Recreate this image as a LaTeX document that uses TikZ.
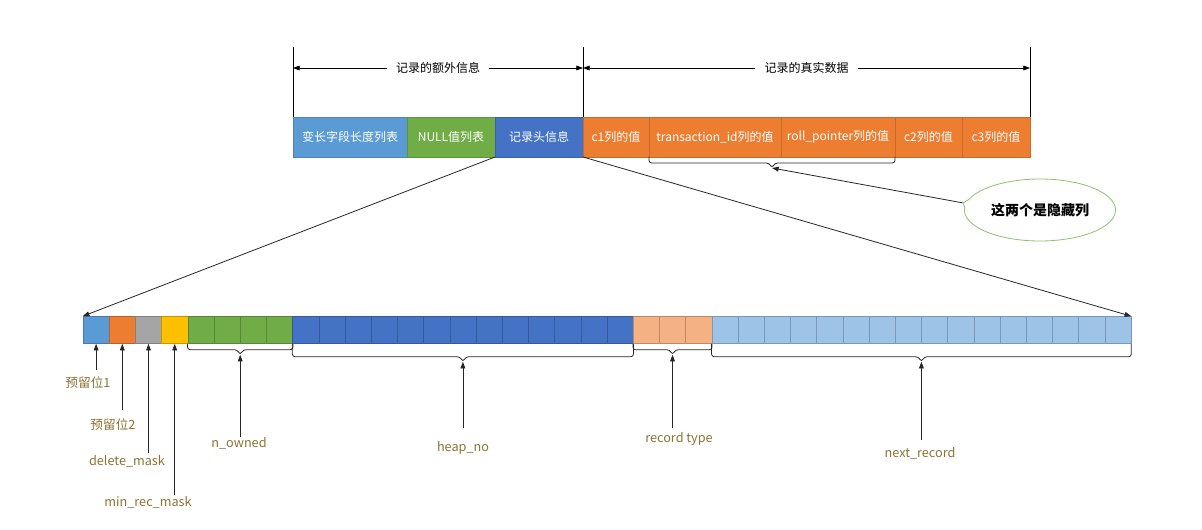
\documentclass[tikz,border=0pt]{standalone}
\usepackage{fontspec}
\setmainfont{Noto Sans CJK SC}
\usetikzlibrary{arrows.meta,positioning,calc,shapes.callouts}
\definecolor{fldblue}{HTML}{5B9BD5}
\definecolor{fldorange}{HTML}{ED7D31}
\definecolor{fldgray}{HTML}{A5A5A5}
\definecolor{fldyellow}{HTML}{FFC000}
\definecolor{fldgreen}{HTML}{70AD47}
\definecolor{flddark}{HTML}{4472C4}
\definecolor{fldsalmon}{HTML}{F4B183}
\definecolor{fldlight}{HTML}{9DC3E6}
\definecolor{lblgold}{HTML}{8C7334}
\definecolor{callgreen}{HTML}{8DC26F}

% brace under a run of cells: first, last, depth, name of tip
\newcommand{\fieldbrace}[4]{%
  \path (#1.south west) -- (#2.south east) coordinate[midway] (#4m);
  \path (#4m) ++(0,#3+5) coordinate (#4);
  \draw[brk] (#1.south west) -- ++(0,#3) -- ($(#4m)+(-3,#3)$) -- (#4)
    -- ($(#4m)+(3,#3)$) -- ($(#2.south east)+(0,#3)$) -- (#2.south east);
}

\begin{document}
\begin{tikzpicture}[x=0.75pt,y=-0.75pt,>={Triangle[length=5pt,width=3.6pt]},
   font=\fontsize{9}{11}\selectfont,
   hdr/.style={fill=#1,draw=#1!85!black,line width=0.4pt,text=white,
     minimum height=30pt,inner sep=0pt,outer sep=0pt},
   cell/.style={fill=#1,draw=#1!78!black,line width=0.4pt,
     minimum width=19.65pt,minimum height=20.25pt,inner sep=0pt},
   lbl/.style={text=lblgold,font=\fontsize{9.5}{11}\selectfont,inner sep=1.5pt},
   brk/.style={draw=black!85,line width=0.6pt,rounded corners=2pt},
   arr/.style={->,draw=black!85,line width=0.6pt},
   dim/.style={<->,line width=0.5pt},
   dimlbl/.style={fill=white,inner xsep=7pt}]
  \useasboundingbox (0,0) rectangle (1202,530);

  % record: extra info and real data
  \node[hdr=fldblue,minimum width=85.5pt] (varlen) at (350,137) {变长字段长度列表};
  \node[hdr=fldgreen,minimum width=66pt,right=0pt of varlen] (nulls) {NULL值列表};
  \node[hdr=flddark,minimum width=66pt,right=0pt of nulls] (header) {记录头信息};
  \node[hdr=fldorange,minimum width=49.5pt,right=0pt of header] (col1) {c1列的值};
  \node[hdr=fldorange,minimum width=99pt,right=0pt of col1] (trxid) {transaction\_id列的值};
  \node[hdr=fldorange,minimum width=85.5pt,right=0pt of trxid] (rollptr) {roll\_pointer列的值};
  \node[hdr=fldorange,minimum width=50.25pt,right=0pt of rollptr] (col2) {c2列的值};
  \node[hdr=fldorange,minimum width=51pt,right=0pt of col2] (col3) {c3列的值};

  % dimension lines
  \draw[line width=0.5pt] (varlen.north west) -- ++(0,-70) coordinate (v1);
  \draw[line width=0.5pt] (header.north east) -- ++(0,-70) coordinate (v2);
  \draw[line width=0.5pt] (col3.north east) -- ++(0,-70) coordinate (v3);
  \path (v1) ++(0,21) coordinate (d1);
  \path (v2) ++(0,21) coordinate (d2);
  \path (v3) ++(0,21) coordinate (d3);
  \draw[dim] (d1) -- node[dimlbl]{记录的额外信息} (d2);
  \draw[dim] (d2) -- node[dimlbl]{记录的真实数据} (d3);

  % hidden columns
  \fieldbrace{trxid}{rollptr}{6}{hidtip}
  \node[ellipse callout,draw=callgreen,fill=white,line width=0.6pt,
    minimum width=100.5pt,minimum height=46.5pt,
    callout absolute pointer={(963,203)},
    font=\fontsize{10.5}{12}\selectfont\bfseries] (hidden) at (1040,210) {这两个是隐藏列};
  \draw[arr] (hidden.pointer) -- (hidtip);

  % record header bits
  \node[cell=fldblue] (c1) at ({83+0.5*26.2},330) {};
  \node[cell=fldorange] (c2) at ({83+1.5*26.2},330) {};
  \node[cell=fldgray] (c3) at ({83+2.5*26.2},330) {};
  \node[cell=fldyellow] (c4) at ({83+3.5*26.2},330) {};
  \foreach \i in {5,...,8}
    \node[cell=fldgreen] (c\i) at ({83+(\i-0.5)*26.2},330) {};
  \foreach \i in {9,...,21}
    \node[cell=flddark] (c\i) at ({83+(\i-0.5)*26.2},330) {};
  \foreach \i in {22,...,24}
    \node[cell=fldsalmon] (c\i) at ({83+(\i-0.5)*26.2},330) {};
  \foreach \i in {25,...,40}
    \node[cell=fldlight] (c\i) at ({83+(\i-0.5)*26.2},330) {};

  \draw[arr] (header.south west) -- (c1.north west);
  \draw[arr] (header.south east) -- (c40.north east);

  \fieldbrace{c5}{c8}{6}{ownedtip}
  \fieldbrace{c9}{c21}{13}{heaptip}
  \fieldbrace{c22}{c24}{6}{typetip}
  \fieldbrace{c25}{c40}{13}{nexttip}

  % labels
  \node[lbl] (res1) at (88,383) {预留位1};
  \node[lbl] (res2) at (113,425) {预留位2};
  \node[lbl] (delmask) at (127,461) {delete\_mask};
  \node[lbl] (minrec) at (148,502) {min\_rec\_mask};
  \node[lbl] (owned) at (239,443) {n\_owned};
  \node[lbl] (heapno) at (463,448) {heap\_no};
  \node[lbl] (rectype) at (679,439) {record type};
  \node[lbl] (nextrec) at (920,453) {next\_record};

  \coordinate (res1from) at (c1.south |- 0,370);
  \coordinate (res2from) at (c2.south |- 0,410);
  \coordinate (delfrom) at (c3.south |- 0,453);
  \coordinate (minfrom) at (c4.south |- 0,495);
  \coordinate (ownedfrom) at (ownedtip |- 0,437);
  \coordinate (heapfrom) at (heaptip |- 0,428);
  \coordinate (typefrom) at (typetip |- 0,428);
  \coordinate (nextfrom) at (nexttip |- 0,440);

  \draw[arr] (res1from) -- (c1.south);
  \draw[arr] (res2from) -- (c2.south);
  \draw[arr] (delfrom) -- (c3.south);
  \draw[arr] (minfrom) -- (c4.south);
  \draw[arr] (ownedfrom) -- (ownedtip);
  \draw[arr] (heapfrom) -- (heaptip);
  \draw[arr] (typefrom) -- (typetip);
  \draw[arr] (nextfrom) -- (nexttip);
\end{tikzpicture}
\end{document}
